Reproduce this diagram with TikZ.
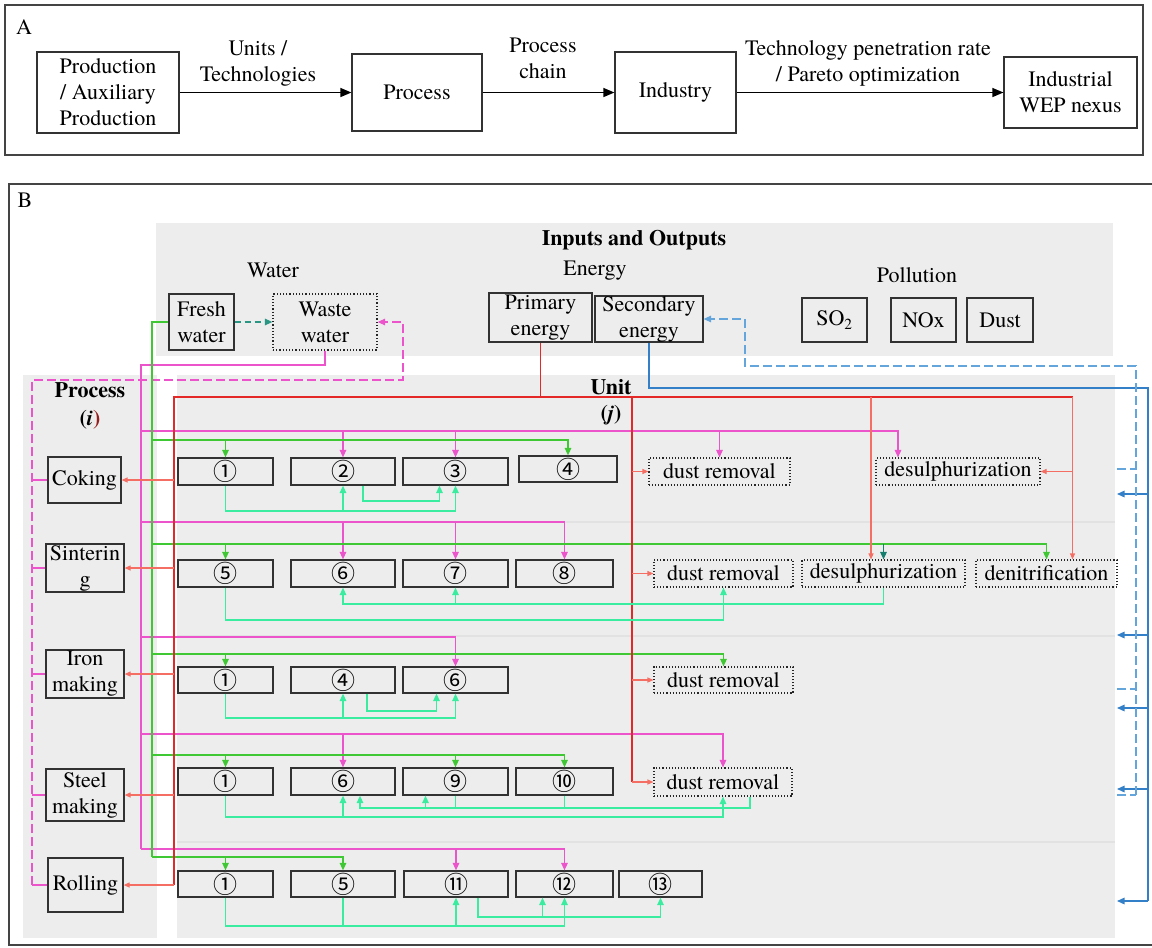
\documentclass[tikz,border=0pt]{standalone}
\usepackage{fontspec}
\setmainfont{texgyretermes}[Extension=.otf,UprightFont=*-regular,BoldFont=*-bold,ItalicFont=*-italic,BoldItalicFont=*-bolditalic]
\newfontfamily\circfont{Noto Sans CJK SC}
\usetikzlibrary{arrows.meta}

\definecolor{panelgray}{RGB}{68,68,68}
\definecolor{boxline}{RGB}{50,50,50}
\definecolor{bgfill}{RGB}{237,237,237}
\definecolor{sepgray}{RGB}{226,226,226}
\definecolor{wastemag}{RGB}{236,84,204}
\definecolor{freshgrn}{RGB}{64,200,52}
\definecolor{flowaqua}{RGB}{58,236,160}
\definecolor{primred}{RGB}{228,40,40}
\definecolor{salmon}{RGB}{244,110,100}
\definecolor{secblue}{RGB}{52,128,200}
\definecolor{secbluelt}{RGB}{100,165,220}
\definecolor{fwteal}{RGB}{40,150,130}
\definecolor{darkteal}{RGB}{22,128,112}
\definecolor{darkred}{RGB}{150,30,30}

\begin{document}
\begin{tikzpicture}[x=1pt,y=-1pt,font=\fontsize{22}{26}\selectfont,
  >={Triangle[length=7.5pt,width=6.5pt]}]
\tikzset{
  panel/.style={draw=panelgray,line width=1.3pt},
  bigbox/.style={draw=boxline,line width=1.2pt,align=center,inner sep=0pt},
  unitbox/.style={draw=boxline,line width=1.2pt,inner sep=0pt,minimum height=27pt,font=\circfont\fontsize{24}{24}\selectfont},
  techbox/.style={draw=black!85,dotted,line width=1.1pt,inner sep=0pt,minimum height=27pt},
  flowA/.style={-{Triangle[length=11pt,width=9pt]},line width=1.3pt},
  magline/.style={draw=wastemag,line width=1.4pt},
  magdash/.style={magline,dash pattern=on 9pt off 4pt},
  grnline/.style={draw=freshgrn,line width=1.4pt},
  redline/.style={draw=primred,line width=1.4pt},
  salline/.style={draw=salmon,line width=1.1pt,-{Triangle[length=6pt,width=5pt]}},
  aqline/.style={draw=flowaqua,line width=1.4pt},
  blueline/.style={draw=secblue,line width=1.4pt},
  bluedash/.style={draw=secbluelt,line width=1.4pt,dash pattern=on 9pt off 4pt}
}
\useasboundingbox (0,0) rectangle (1152,948);

% ---- panel A: from production to the nexus
\draw[panel] (5,5) rectangle (1143,155);
\node at (24,27) {A};
\node[bigbox,minimum width=142pt,minimum height=81pt] (prod) at (108,92.5) {Production\\/ Auxiliary\\Production};
\node[bigbox,minimum width=130pt,minimum height=77pt] (proc) at (417,92.5) {Process};
\node[bigbox,minimum width=121pt,minimum height=81pt] (ind) at (675.5,92.5) {Industry};
\node[bigbox,minimum width=133pt,minimum height=71pt] (nexus) at (1070.5,92.5) {Industrial\\WEP nexus};
\draw[flowA] (prod) -- (proc);
\draw[flowA] (proc) -- (ind);
\draw[flowA] (ind) -- (nexus);
\node[align=center] (lunits) at (258,63) {Units /\\Technologies};
\node[align=center] (lchain) at (543,58) {Process\\chain};
\node[align=center] (lrate) at (868,63) {Technology penetration rate\\/ Pareto optimization};

% ---- panel B: backgrounds
\draw[panel] (9,184) rectangle (1155,945);
\node at (25,200) {B};
\fill[bgfill] (156,223) rectangle (1113,356);
\fill[bgfill] (23,375) rectangle (157,938);
\fill[bgfill] (177,375) rectangle (1115,938);
\draw[sepgray,line width=1.5pt] (177,522) -- (1115,522);
\draw[sepgray,line width=1.5pt] (177,636) -- (1115,636);
\draw[sepgray,line width=1.5pt] (177,842) -- (1115,842);

% inputs and outputs
\node[font=\fontsize{22}{26}\selectfont\bfseries] (io) at (634,240) {Inputs and Outputs};
\node (lwater) at (273,270) {Water};
\node (lenergy) at (595,271) {Energy};
\node (lpoll) at (917,275) {Pollution};
\node[bigbox,minimum width=65pt,minimum height=56pt] (fw) at (201.5,322) {Fresh\\water};
\node[bigbox,draw=black!85,dotted,minimum width=104pt,minimum height=56pt] (ww) at (325,322) {Waste\\water};
\node[bigbox,minimum width=103pt,minimum height=49pt] (pe) at (540.5,317.5) {Primary\\energy};
\node[bigbox,minimum width=108pt,minimum height=46pt] (se) at (649,319) {Secondary\\energy};
\node[bigbox,minimum width=65pt,minimum height=44pt] (so2) at (834.5,320) {SO\textsubscript{2}};
\node[bigbox,minimum width=65pt,minimum height=44pt] (nox) at (923.5,320) {NOx};
\node[bigbox,minimum width=66pt,minimum height=44pt] (dust) at (1000,320) {Dust};

% processes
\node[font=\fontsize{22}{26}\selectfont\bfseries] (lproc) at (90,390) {Process};
\node[font=\fontsize{22}{26}\selectfont\bfseries] (lproci) at (90,420) {(\textit{i}\textcolor{darkred}{)}};
\node[bigbox,minimum width=73pt,minimum height=46pt] (pCok) at (84.5,480) {Coking};
\node[bigbox,minimum width=78pt,minimum height=48pt] (pSin) at (85,568) {Sinterin\\g};
\node[bigbox,minimum width=78pt,minimum height=48pt] (pIron) at (85,674) {Iron\\making};
\node[bigbox,minimum width=78pt,minimum height=52pt] (pSteel) at (85,795) {Steel\\making};
\node[bigbox,minimum width=75pt,minimum height=54pt] (pRoll) at (85.5,885) {Rolling};

% units
\node[font=\fontsize{22}{26}\selectfont\bfseries] (lunit) at (611,387) {Unit};
\node[font=\fontsize{22}{26}\selectfont\bfseries] (lunitj) at (611,415) {(\textit{j})};
\node[unitbox,minimum width=95pt] (c1) at (225.5,471.5) {①};
\node[unitbox,minimum width=104pt] (c2) at (343,471.5) {②};
\node[unitbox,minimum width=105pt] (c3) at (455.5,471.5) {③};
\node[unitbox,minimum width=98pt,minimum height=26pt] (c4) at (568,469) {④};
\node[techbox,minimum width=141pt] (cd) at (719.5,471.5) {dust removal};
\node[techbox,minimum width=164pt] (cs) at (958,471.5) {desulphurization};

\node[unitbox,minimum width=95pt] (s5) at (225.5,573.5) {⑤};
\node[unitbox,minimum width=104pt] (s6) at (343,573.5) {⑥};
\node[unitbox,minimum width=105pt] (s7) at (455.5,573.5) {⑦};
\node[unitbox,minimum width=97pt] (s8) at (564.5,573.5) {⑧};
\node[techbox,minimum width=139pt] (sd) at (723.5,573.5) {dust removal};
\node[techbox,minimum width=163pt] (ss) at (883.5,573.5) {desulphurization};
\node[techbox,minimum width=141pt] (sn) at (1046.5,573.5) {denitrification};

\node[unitbox,minimum width=95pt,minimum height=26pt] (i1) at (225.5,680) {①};
\node[unitbox,minimum width=104pt,minimum height=26pt] (i4) at (343,680) {④};
\node[unitbox,minimum width=105pt,minimum height=26pt] (i6) at (455.5,680) {⑥};
\node[techbox,minimum width=139pt,minimum height=26pt] (id) at (723.5,680) {dust removal};

\node[unitbox,minimum width=95pt] (t1) at (225.5,781.5) {①};
\node[unitbox,minimum width=104pt] (t6) at (343,781.5) {⑥};
\node[unitbox,minimum width=105pt] (t9) at (455.5,781.5) {⑨};
\node[unitbox,minimum width=97pt] (t10) at (564.5,781.5) {⑩};
\node[techbox,minimum width=138pt,minimum height=28pt] (td) at (723,782) {dust removal};

\node[unitbox,minimum width=95pt,minimum height=26pt] (r1) at (225.5,884) {①};
\node[unitbox,minimum width=104pt,minimum height=26pt] (r5) at (343,884) {⑤};
\node[unitbox,minimum width=104pt,minimum height=26pt] (r11) at (456,884) {⑪};
\node[unitbox,minimum width=97pt,minimum height=26pt] (r12) at (564.5,884) {⑫};
\node[unitbox,minimum width=83pt,minimum height=26pt] (r13) at (660.5,884) {⑬};

% ---- waste water (magenta)
\coordinate (mtop) at (141,365);
\coordinate (m1) at (141,431);
\coordinate (m2) at (141,522);
\coordinate (m3) at (141,637);
\coordinate (m4) at (141,734);
\coordinate (m5) at (141,849);
\coordinate (csin) at ([xshift=-60pt]cs.north);
\draw[magline] (ww.south) |- (mtop) -- (m5);
\draw[magline,->] (m1) -| (csin);
\foreach \n in {c2,c3,cd} \draw[magline,->] (m1 -| \n.north) -- (\n.north);
\draw[magline,->] (m2) -| (s8.north);
\foreach \n in {s6,s7} \draw[magline,->] (m2 -| \n.north) -- (\n.north);
\draw[magline,->] (m3) -| (i6.north);
\draw[magline,->] (m4) -| (td.north);
\draw[magline,->] (m4 -| t6.north) -- (t6.north);
\draw[magline,->] (m5) -| (r12.north);
\draw[magline,->] (m5 -| r11.north) -- (r11.north);

\coordinate (dtop) at (32,380);
\coordinate (dbot) at (32,885);
\coordinate (dturn) at (403,380);
\draw[magdash,->] (dbot) -- (dtop) -- (dturn) |- (ww.east);
\foreach \p in {pCok,pSin,pIron,pSteel,pRoll} \draw[magline] (dtop |- \p.west) -- (\p.west);

% ---- fresh water (green)
\coordinate (gtop) at (152,322);
\coordinate (g1) at (152,440);
\coordinate (g2) at (152,544);
\coordinate (g3) at (152,654);
\coordinate (g4) at (152,755);
\coordinate (g5) at (152,857);
\draw[fwteal,line width=1.4pt,dash pattern=on 6pt off 4pt,->] (fw) -- (ww);
\draw[grnline] (fw.west) -- (gtop) -- (g5);
\draw[grnline,->] (g1) -| (c4.north);
\draw[grnline,->] (g1 -| c1.north) -- (c1.north);
\draw[grnline,->] (g2) -| (sn.north);
\draw[grnline,->] (g2 -| s5.north) -- (s5.north);
\draw[darkteal,line width=1.4pt,->] (g2 -| ss.north) -- (ss.north);
\draw[grnline,->] (g3) -| (id.north);
\draw[grnline,->] (g3 -| i1.north) -- (i1.north);
\draw[grnline,->] (g4) -| (t10.north);
\foreach \n in {t1,t9} \draw[grnline,->] (g4 -| \n.north) -- (\n.north);
\draw[grnline,->] (g5) -| (r5.north);
\draw[grnline,->] (g5 -| r1.north) -- (r1.north);

% ---- primary energy (red)
\coordinate (rleft) at (174,397);
\coordinate (rbot) at (174,885);
\coordinate (rc) at (632,397);
\coordinate (snred) at ([xshift=26pt]sn.north);
\coordinate (ssred) at ([xshift=-12.5pt]ss.north);
\draw[redline] (pe.south) |- (rleft) -- (rbot);
\draw[redline] (pe.south |- rleft) -- (snred |- rleft);
\draw[redline] (rc) -- (rc |- td.west);
\draw[salline] (snred |- rleft) -- (snred);
\draw[salline] (ssred |- rleft) -- (ssred);
\draw[salline] (snred |- cs.east) -- (cs.east);
\foreach \n in {cd,sd,id,td} \draw[salline] (rc |- \n.west) -- (\n.west);
\foreach \p in {pCok,pSin,pIron,pSteel,pRoll} \draw[salline] (rleft |- \p.east) -- (\p.east);

% ---- secondary energy (blue)
\coordinate (bcorner) at (1148,388);
\coordinate (bt1) at (1117,494);
\coordinate (bt2) at (1117,635);
\coordinate (bt3) at (1117,708);
\coordinate (bt4) at (1117,789);
\coordinate (bt5) at (1117,901);
\draw[blueline] (se.south) |- (bcorner) -- (bcorner |- bt5);
\foreach \b in {bt1,bt2,bt3,bt4,bt5} \draw[blueline,->] (bcorner |- \b) -- (\b);
\coordinate (dcorner) at (1136,366);
\coordinate (dleft) at (745,366);
\coordinate (bd1) at (1117,469);
\coordinate (bd3) at (1117,689);
\coordinate (bd4) at (1117,795);
\draw[bluedash,->] (dcorner |- bd4) -- (dcorner) -- (dleft) |- (se.east);
\foreach \b in {bd1,bd3,bd4} \draw[bluedash] (\b) -- (dcorner |- \b);

% ---- material flows between units (aqua)
\coordinate (f1a) at (0,511);
\coordinate (f1b) at (0,501);
\coordinate (c2out) at ([xshift=20pt]c2.south);
\coordinate (c3in) at ([xshift=-16pt]c3.south);
\draw[aqline] (c1.south) |- (c3.south |- f1a);
\draw[aqline,->] (c2.south |- f1a) -- (c2.south);
\draw[aqline,->] (c3.south |- f1a) -- (c3.south);
\draw[aqline,->] (c2out) |- (c3in |- f1b) -- (c3in);

\coordinate (f2a) at (0,620);
\coordinate (f2b) at (0,604);
\draw[aqline,->] (s5.south) |- (sd.south |- f2a) -- (sd.south);
\draw[aqline,->] (ss.south) |- (s6.south |- f2b) -- (s6.south);
\draw[aqline,->] (s7.south |- f2b) -- (s7.south);

\coordinate (f3a) at (0,718);
\coordinate (f3b) at (0,711);
\coordinate (i4out) at ([xshift=24pt]i4.south);
\coordinate (i6in) at ([xshift=-19pt]i6.south);
\draw[aqline] (i1.south) |- (i6.south |- f3a);
\draw[aqline,->] (i4.south |- f3a) -- (i4.south);
\draw[aqline,->] (i6.south |- f3a) -- (i6.south);
\draw[aqline,->] (i4out) |- (i6in |- f3b) -- (i6in);

\coordinate (f4a) at (0,817);
\coordinate (f4b) at (0,808);
\coordinate (tdout) at ([xshift=27pt]td.south);
\coordinate (t6in) at ([xshift=17pt]t6.south);
\coordinate (t9in) at ([xshift=-30pt]t9.south);
\draw[aqline,->] (t1.south) |- (td.south |- f4a) -- (td.south);
\draw[aqline,->] (t6.south |- f4a) -- (t6.south);
\draw[aqline,->] (tdout) |- (t6in |- f4b) -- (t6in);
\draw[aqline,->] (t9in |- f4b) -- (t9in);
\draw[aqline] (t9.south) -- (t9.south |- f4b);
\draw[aqline] (t10.south) -- (t10.south |- f4b);

\coordinate (f5a) at (0,926);
\coordinate (f5b) at (0,917);
\coordinate (r11out) at ([xshift=22pt]r11.south);
\coordinate (r12in) at ([xshift=-22pt]r12.south);
\draw[aqline] (r1.south) |- (r12.south |- f5a);
\draw[aqline] (r5.south) -- (r5.south |- f5a);
\draw[aqline,->] (r11.south |- f5a) -- (r11.south);
\draw[aqline,->] (r12.south |- f5a) -- (r12.south);
\draw[aqline,->] (r11out) |- (r13.south |- f5b) -- (r13.south);
\draw[aqline,->] (r12in |- f5b) -- (r12in);
\end{tikzpicture}
\end{document}
